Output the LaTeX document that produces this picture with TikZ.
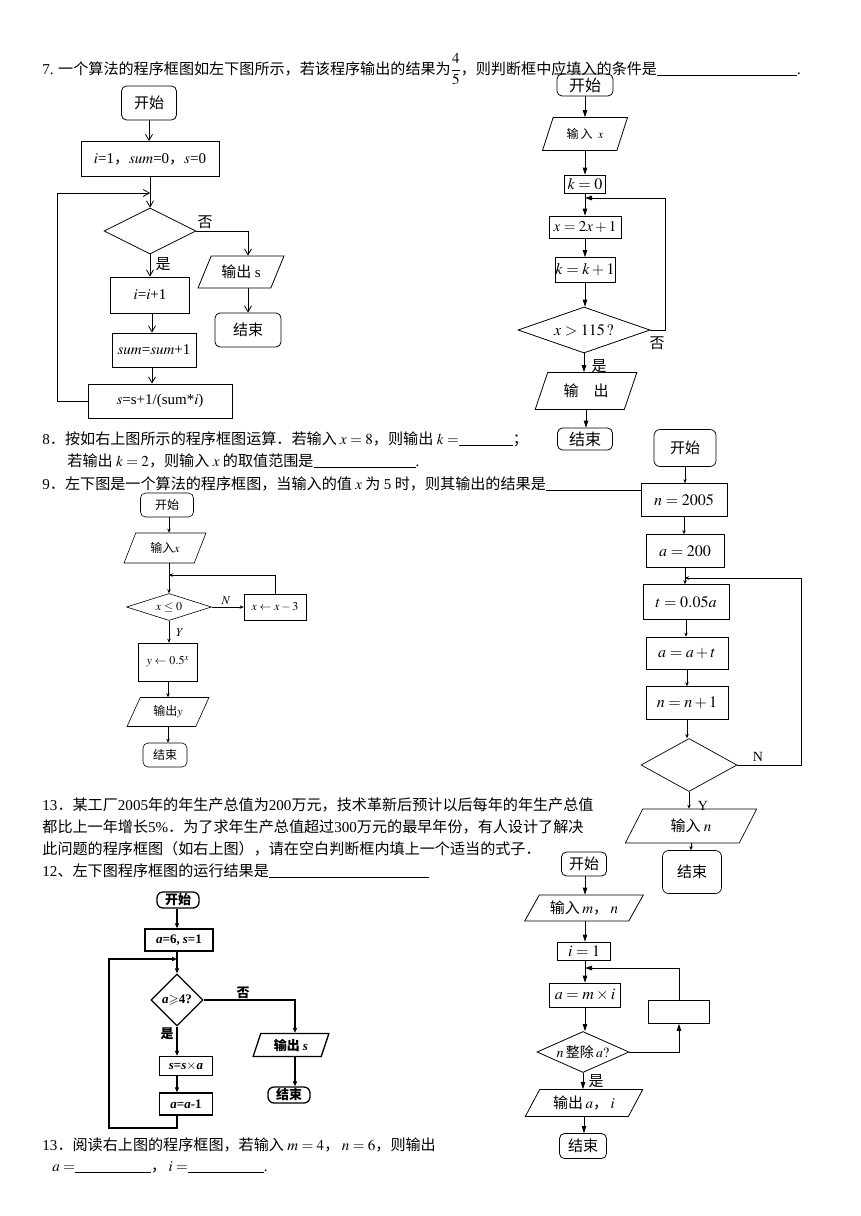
\documentclass[tikz,border=0pt]{standalone}
\usepackage{mathptmx}
\usepackage{amssymb}
\usepackage{fontspec}
\setmainfont{Noto Sans CJK SC}
\newfontfamily\latf{Liberation Serif}
\newcommand\Lat[1]{{\latf #1}}
\newcommand\BI[1]{{\latf\bfseries\itshape #1}}
\newcommand\BU[1]{{\latf\bfseries #1}}
\newcommand\fs[1]{\fontsize{#1}{#1}\selectfont}
\usetikzlibrary{shapes.geometric,arrows.meta}
\begin{document}
\begin{tikzpicture}[x=1pt,y=-1pt,line width=0.8pt,
  tx/.style={anchor=base west,inner sep=0pt,font=\fs{15.1}},
  rbox/.style={draw,rounded corners=5pt,inner sep=0pt},
  pbox/.style={draw,inner sep=0pt},
  dbox/.style={draw,diamond,inner sep=0pt},
  io/.style 2 args={draw,trapezium,trapezium stretches=true,trapezium left angle=#1,trapezium right angle=#2,inner sep=0pt},
  va/.style={-{Straight Barb[length=6pt,width=7pt]}},
  ta/.style={-{Triangle[length=7pt,width=4.5pt]}},
  sa/.style={-{Stealth[length=4pt,width=3.5pt]}},
  fa/.style={-{Triangle[length=5pt,width=4pt]}},
  lab/.style={inner sep=0pt,font=\fs{14}}
]
\fill[white] (0,0) rectangle (860,1216);
\useasboundingbox (0,0) rectangle (860,1216);

% ---------- texts ----------
\node[tx] (t7) at (42,74) {\Lat{7.} 一个算法的程序框图如左下图所示，若该程序输出的结果为$\displaystyle\frac{4}{5}$，则判断框中应填入的条件是\rule[-2pt]{140pt}{0.6pt}\Lat{.}};
\node[tx] (t8a) at (42,444) {\Lat{8}．按如右上图所示的程序框图运算．若输入 $x=8$，则输出 $k=$\rule[-2pt]{54pt}{0.6pt}；};
\node[tx] (t8b) at (67,466) {若输出 $k=2$，则输入 $x$ 的取值范围是\rule[-2pt]{102pt}{0.6pt}\Lat{.}};
\node[tx] (t9) at (42,489) {\Lat{9}．左下图是一个算法的程序框图，当输入的值 $x$ 为 \Lat{5} 时，则其输出的结果是\rule[-2pt]{96pt}{0.6pt}};
\node[tx] (t13a) at (42,810) {\Lat{13}．某工厂\Lat{2005}年的年生产总值为\Lat{200}万元，技术革新后预计以后每年的年生产总值};
\node[tx] (t13b) at (42,832) {都比上一年增长\Lat{5\%}．为了求年生产总值超过\Lat{300}万元的最早年份，有人设计了解决};
\node[tx] (t13c) at (42,854) {此问题的程序框图（如右上图），请在空白判断框内填上一个适当的式子．};
\node[tx] (t12) at (42,876) {\Lat{12}、左下图程序框图的运行结果是\rule[-2pt]{160pt}{0.6pt}};
\node[tx] (t13d) at (42,1150) {\Lat{13}．阅读右上图的程序框图，若输入 $m=4$，\,$n=6$，则输出};
\node[tx] (t13e) at (52,1171) {$a=$\rule[-2pt]{76pt}{0.6pt}，\,$i=$\rule[-2pt]{76pt}{0.6pt}\Lat{.}};

% ---------- flowchart 1 (top left) ----------
\node[rbox,minimum width=55,minimum height=34,font=\fs{15}] (a1) at (149,103) {开始};
\node[pbox,minimum width=138,minimum height=35,font=\fs{15}] (a2) at (150,159) {$i$\Lat{=1}，$sum$\Lat{=0}，$s$\Lat{=0}};
\coordinate (m1) at (150,193);
\node[dbox,minimum width=92,minimum height=46] (a3) at (150,231) {};
\node[io={58}{122},minimum width=86,minimum height=32,font=\fs{15}] (a4) at (241,272) {输出 \Lat{s}};
\node[rbox,minimum width=66,minimum height=34,font=\fs{15}] (a5) at (248,330) {结束};
\node[pbox,minimum width=79,minimum height=36,font=\fs{15}] (a6) at (150,295) {$i$\Lat{=}$i$\Lat{+1}};
\node[pbox,minimum width=84,minimum height=34,font=\fs{15}] (a7) at (154,350) {$sum$\Lat{=}$sum$\Lat{+1}};
\node[pbox,minimum width=144,minimum height=34,font=\fs{15}] (a8) at (160,401) {$s$\Lat{=s+1/(sum*}$i$\Lat{)}};
\node[lab,font=\fs{15}] (a9) at (205,222) {否};
\node[lab,font=\fs{15}] (a10) at (163,264) {是};
\draw[va] (a1.south) -- (a1.south |- a2.north);
\draw[va] (a2.south) -- (a3.north);
\draw[va] (a3.east) -| ([xshift=7]a4.north);
\draw[va] (a5.north |- a4.south) -- (a5.north);
\draw[va] (a3.south) -- (a3.south |- a6.north);
\draw[va] ([xshift=2]a6.south) -- ([xshift=2]a6.south |- a7.north);
\draw[va] ([xshift=-2]a7.south) -- ([xshift=-2]a7.south |- a8.north);
\draw[va] (a8.west) -- ++(-30,0) |- (m1);

% ---------- flowchart 2 (top right) ----------
\node[rbox,minimum width=56,minimum height=22,font=\fs{16}] (b1) at (585,85) {开始};
\node[io={61}{119},minimum width=85,minimum height=33,font=\fs{12}] (b2) at (585,134) {输\,入\ \ $x$};
\node[pbox,minimum width=41,minimum height=18,font=\fs{16}] (b3) at (585,184) {$k=0$};
\coordinate (m2) at (585,198);
\node[pbox,minimum width=72,minimum height=22,font=\fs{15}] (b4) at (585,227) {$x=2x+1$};
\node[pbox,minimum width=60,minimum height=25,font=\fs{16}] (b5) at (585,270) {$k=k+1$};
\node[dbox,aspect=2.87,minimum width=132,minimum height=46,font=\fs{16}] (b6) at (584,330) {$x>115\,?$};
\node[io={62}{118},minimum width=102,minimum height=37,font=\fs{15}] (b7) at (586,391) {输\hspace{15pt}出};
\node[rbox,minimum width=55,minimum height=22,font=\fs{16}] (b8) at (585,439) {结束};
\node[lab,font=\fs{15}] (b9) at (657,343) {否};
\node[lab,font=\fs{15}] (b10) at (599,366) {是};
\draw[ta] (b1.south) -- (b1.south |- b2.north);
\draw[ta] (b2.south) -- (b2.south |- b3.north);
\draw[ta] (b3.south) -- (b3.south |- b4.north);
\draw[ta] (b4.south) -- (b4.south |- b5.north);
\draw[ta] (b5.south) -- (b5.south |- b6.north);
\draw[ta] (b6.east) -- ++(15,0) |- (m2);
\draw[ta] (b6.south) -- (b6.south |- b7.north);
\draw[ta] (b7.south) -- (b7.south |- b8.north);

% ---------- flowchart 3 (question 9) ----------
\begin{scope}[line width=0.6pt]
\node[rbox,minimum width=53,minimum height=24,font=\fs{12}] (c1) at (167,505) {开始};
\node[io={62}{118},minimum width=82,minimum height=30,font=\fs{12}] (c2) at (165,548) {输入$x$};
\coordinate (m3) at (169,575);
\node[dbox,aspect=3.15,minimum width=85,minimum height=27,font=\fs{12}] (c3) at (169,607) {$x\le 0$};
\node[pbox,minimum width=62,minimum height=26,font=\fs{12}] (c4) at (275,607) {$x\leftarrow x-3$};
\node[pbox,minimum width=59,minimum height=38,font=\fs{12}] (c5) at (168,662) {$y\leftarrow 0.5^x$};
\node[io={61}{119},minimum width=82,minimum height=29,font=\fs{12}] (c6) at (168,712) {输出$y$};
\node[rbox,minimum width=44,minimum height=24,font=\fs{12}] (c7) at (165,755) {结束};
\node[lab,font=\fs{12}] (c8) at (226,601) {$N$};
\node[lab,font=\fs{12}] (c9) at (180,633) {$Y$};
\draw[sa] (c1.south -| m3) -- (c2.north -| m3);
\draw[sa] (c2.south -| m3) -- (c3.north);
\draw[sa] (c3.east) -- (c4.west);
\draw[sa] (c4.north) |- (m3);
\draw[sa] (c3.south) -- (c3.south |- c5.north);
\draw[sa] (c5.south) -- (c5.south |- c6.north);
\draw[sa] (c6.south) -- (c6.south |- c7.north);
\end{scope}

% ---------- flowchart 4 (right, n=2005) ----------
\begin{scope}[line width=0.7pt]
\node[rbox,rounded corners=6pt,minimum width=62,minimum height=37,font=\fs{15}] (d1) at (685,448) {开始};
\node[pbox,minimum width=86,minimum height=33,font=\fs{16}] (d2) at (684,500) {$n=2005$};
\node[pbox,minimum width=78,minimum height=33,font=\fs{16}] (d3) at (685,551) {$a=200$};
\coordinate (m4) at (685,578);
\node[pbox,minimum width=86,minimum height=35,font=\fs{16}] (d4) at (686,602) {$t=0.05a$};
\node[pbox,minimum width=82,minimum height=32,font=\fs{16}] (d5) at (687,653) {$a=a+t$};
\node[pbox,minimum width=82,minimum height=33,font=\fs{16}] (d6) at (687,703) {$n=n+1$};
\node[dbox,minimum width=96,minimum height=53] (d7) at (689,765) {};
\node[io={62}{118},minimum width=132,minimum height=34,font=\fs{15}] (d8) at (691,826) {输入 $n$};
\node[rbox,rounded corners=6pt,minimum width=59,minimum height=43,font=\fs{15}] (d9) at (692,872) {结束};
\node[lab,font=\fs{14}] (d10) at (758,757) {\Lat{N}};
\node[lab,font=\fs{14}] (d11) at (703,806) {\Lat{Y}};
\draw[sa] (d1.south) -- (d1.south |- d2.north);
\draw[sa] (d2.south) -- (d2.south |- d3.north);
\draw[sa] (d3.south) -- (d3.south |- d4.north);
\draw[sa] (d4.south) -- (d4.south |- d5.north);
\draw[sa] (d5.south) -- (d5.south |- d6.north);
\draw[sa] (d6.south) -- (d6.south |- d7.north);
\draw[sa] (d7.east) -- ++(64,0) |- (m4);
\draw[sa] (d7.south) -- (d7.south |- d8.north);
\draw[sa] (d8.south) -- (d8.south |- d9.north);
\end{scope}

% ---------- flowchart 5 (bottom left, bold) ----------
\begin{scope}[line width=1.3pt]
\node[rbox,rounded corners=6pt,minimum width=42,minimum height=16,font=\fs{13}\bfseries] (e1) at (178,900) {开始};
\node[pbox,minimum width=68,minimum height=22,font=\fs{13}] (e2) at (179,940) {\BI{a}\BU{=6,} \BI{s}\BU{=1}};
\coordinate (m5) at (177,959);
\node[dbox,minimum width=52,minimum height=52,font=\fs{13}] (e3) at (177,1000) {\BI{a}$\geqslant$\BU{4?}};
\node[io={71}{109},minimum width=76,minimum height=23,font=\fs{13}\bfseries] (e4) at (291,1045) {输出 \BI{s}};
\node[rbox,rounded corners=6pt,minimum width=42,minimum height=16,font=\fs{13}\bfseries] (e5) at (289,1095) {结束};
\node[pbox,minimum width=53,minimum height=19,font=\fs{13}] (e6) at (186,1066) {\BI{s}\BU{=}\BI{s}$\times$\BI{a}};
\node[pbox,minimum width=53,minimum height=22,font=\fs{13}] (e7) at (186,1104) {\BI{a}\BU{=}\BI{a}\BU{-1}};
\node[lab,font=\fs{13}\bfseries] (e8) at (243,993) {否};
\node[lab,font=\fs{13}\bfseries] (e9) at (167,1034) {是};
\coordinate (l5) at (109,1128);
\draw[fa] (e1.south -| m5) -- (e2.north -| m5);
\draw[fa] (e2.south -| m5) -- (e3.north);
\draw[fa] (e3.east) -| ([xshift=4]e4.north);
\draw[fa] ([xshift=4]e4.south) -- ([xshift=4]e4.south |- e5.north);
\draw[fa] (e3.south) -- (e3.south |- e6.north);
\draw[fa] (e6.south -| m5) -- (e7.north -| m5);
\draw[fa] (e7.south -| m5) |- (l5) |- (m5);
\end{scope}

% ---------- flowchart 6 (bottom right) ----------
\node[rbox,minimum width=45,minimum height=24,font=\fs{15}] (f1) at (584,864) {开始};
\node[io={52}{128},minimum width=119,minimum height=26,font=\fs{15}] (f2) at (584,908) {输入\,$m$，\,$n$};
\node[pbox,minimum width=53,minimum height=18,font=\fs{16}] (f3) at (584,951) {$i=1$};
\coordinate (m6) at (585,968);
\node[pbox,minimum width=71,minimum height=24,font=\fs{16}] (f4) at (585,995) {$a=m\times i$};
\node[dbox,aspect=2.24,minimum width=92,minimum height=41,font=\fs{14}] (f5) at (583,1052) {$n$\,整除\,$a?$};
\node[pbox,minimum width=61,minimum height=23] (f6) at (679,1012) {};
\node[io={55}{125},minimum width=118,minimum height=27,font=\fs{15}] (f7) at (584,1103) {输出\,$a$，\,$i$};
\node[rbox,minimum width=47,minimum height=25,font=\fs{15}] (f8) at (583,1146) {结束};
\node[lab,font=\fs{15}] (f9) at (596,1081) {是};
\draw[ta] (f1.south -| m6) -- (f2.north -| m6);
\draw[ta] (f2.south -| m6) -- (f3.north -| m6);
\draw[ta] (f3.south -| m6) -- (f4.north -| m6);
\draw[ta] (f4.south -| m6) -- (f5.north -| m6);
\draw[ta] (f5.east) -| (f6.south);
\draw[ta] (f6.north) |- (m6);
\draw[ta] (f5.south) -- (f5.south |- f7.north);
\draw[ta] (f7.south) -- (f7.south |- f8.north);
\end{tikzpicture}
\end{document}
